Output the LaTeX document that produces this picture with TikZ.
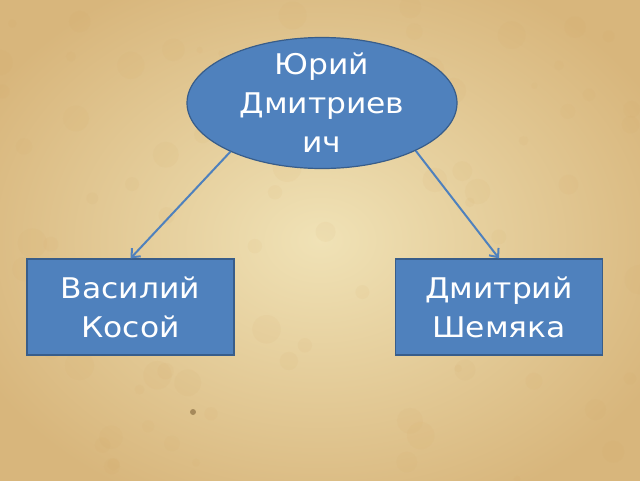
\documentclass[tikz,border=0pt]{standalone}
\usepackage{fontspec}
\setmainfont[FakeStretch=1.1]{DejaVu Sans}
\usetikzlibrary{shapes.geometric,arrows.meta}
\definecolor{fillblue}{RGB}{79,129,189}
\definecolor{edgeblue}{RGB}{56,93,138}
\definecolor{paper}{RGB}{240,226,182}
\definecolor{papermid}{RGB}{235,214,164}
\definecolor{paperdark}{RGB}{216,182,124}
\definecolor{spot}{RGB}{210,165,95}
\tikzset{
  blueshape/.style={fill=fillblue, draw=edgeblue, line width=1.2pt, text=white,
    align=center, font=\fontsize{28.5}{39}\selectfont, inner sep=0pt},
  ovalnode/.style={blueshape, ellipse, inner ysep=-7pt, minimum width=270pt, minimum height=131pt},
  boxnode/.style={blueshape, rectangle, minimum width=207pt, minimum height=96pt},
  conn/.style={draw=fillblue, line width=2pt, -{Straight Barb[length=7pt,width=12pt]}}
}
\begin{document}
\begin{tikzpicture}[x=1pt,y=-1pt]
\useasboundingbox (0,0) rectangle (640,480);
\shade[inner color=paper, middle color=papermid, outer color=paperdark] (-60,-50) rectangle (700,530);
\pgfmathsetseed{7}
\foreach \i in {1,...,90}{
  \pgfmathsetmacro{\px}{rnd*640}
  \pgfmathsetmacro{\py}{rnd*480}
  \pgfmathsetmacro{\pr}{3+rnd*12}
  \fill[spot, opacity=0.07] (\px,\py) circle[radius=\pr pt];
}
\fill[spot!60!black, opacity=0.6] (193,412) circle[radius=3pt];
\node[ovalnode] (yuri) at (322,103) {Юрий\\Дмитриев\\ич};
\node[boxnode] (vasily) at (130.5,307) {Василий\\Косой};
\node[boxnode] (dmitry) at (499,307) {Дмитрий\\Шемяка};
\draw[conn] (yuri.208) -- (vasily.north);
\draw[conn] (yuri.333) -- (dmitry.north);
\end{tikzpicture}
\end{document}
